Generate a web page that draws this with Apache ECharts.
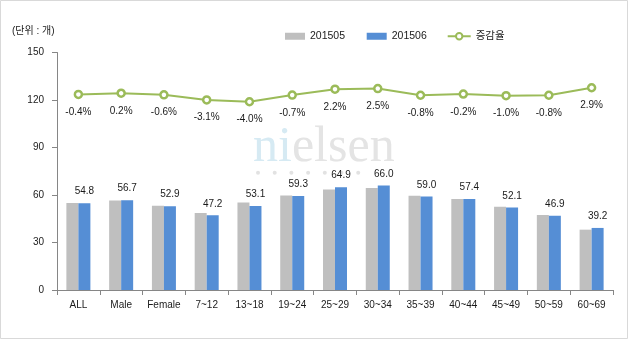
<!DOCTYPE html>
<html>
<head>
<meta charset="utf-8">
<script src="https://cdn.jsdelivr.net/npm/echarts@6/dist/echarts.min.js"></script>
<style>
  html, body { margin: 0; padding: 0; background: #fff; }
  #chart { width: 630px; height: 342px; }
</style>
</head>
<body>
<div id="chart"></div>
<script>
// Categories: total, gender, age bands
const categories = ['ALL', 'Male', 'Female', '7~12', '13~18', '19~24', '25~29', '30~34', '35~39', '40~44', '45~49', '50~59', '60~69'];
// Monthly counts (unit: 개)
const may2015 = [55.0, 56.6, 53.2, 48.7, 55.3, 59.7, 63.5, 64.4, 59.5, 57.5, 52.6, 47.3, 38.1];
const jun2015 = [54.8, 56.7, 52.9, 47.2, 53.1, 59.3, 64.9, 66.0, 59.0, 57.4, 52.1, 46.9, 39.2];
// Month-over-month change, %
const changeRate = [-0.4, 0.2, -0.6, -3.1, -4.0, -0.7, 2.2, 2.5, -0.8, -0.2, -1.0, -0.8, 2.9];
const yTicks = [0, 30, 60, 90, 120, 150];

const FONT = '"Liberation Sans", "Noto Sans CJK KR", sans-serif';
const SERIF = '"Liberation Serif", serif';
const TXT = '#1a1a1a';

const chart = echarts.init(document.getElementById('chart'), null, { renderer: 'canvas' });

chart.setOption({
  animation: false,
  backgroundColor: '#ffffff',
  textStyle: { fontFamily: FONT },
  grid: { left: 57, right: 17, top: 52.5, bottom: 52, containLabel: false },
  graphic: [
    { type: 'rect', z: 0, shape: { x: 0.5, y: 0.5, width: 627, height: 338 },
      style: { fill: 'none', stroke: '#d9d9d9', lineWidth: 1 } },
    { type: 'text', z: 0, left: 12, top: 26,
      style: { text: '(단위 : 개)', font: '10px ' + FONT, fill: TXT } },
    // nielsen watermark
    { type: 'text', z: 0, x: 253, y: 148,
      style: { text: 'ni', font: '50px ' + SERIF, fill: '#d6eaf3', verticalAlign: 'middle' } },
    { type: 'text', z: 0, x: 291.9, y: 148,
      style: { text: 'elsen', font: '50px ' + SERIF, fill: '#e4e4e4', verticalAlign: 'middle' } },
    ...[0, 1, 2, 3, 4, 5, 6].map(i => ({
      type: 'circle', z: 0, shape: { cx: 258 + i * 16.7, cy: 172.7, r: 2 },
      style: { fill: '#e2e2e2' }
    }))
  ],
  legend: [
    { data: ['201505'], left: 280, top: 26, itemWidth: 20, itemHeight: 7, icon: 'rect',
      textStyle: { fontSize: 10.5, color: TXT, fontFamily: FONT } },
    { data: ['201506'], left: 361.7, top: 26, itemWidth: 20, itemHeight: 7, icon: 'rect',
      textStyle: { fontSize: 10.5, color: TXT, fontFamily: FONT } },
    { data: ['증감율'], left: 441.7, top: 26, itemWidth: 23, itemHeight: 8,
      textStyle: { fontSize: 10.5, color: TXT, fontFamily: FONT } }
  ],
  xAxis: {
    type: 'category',
    data: categories,
    boundaryGap: true,
    axisLine: { lineStyle: { color: '#868686', width: 1 } },
    axisTick: { show: true, length: 5, lineStyle: { color: '#868686' } },
    axisLabel: { color: TXT, fontSize: 10, margin: 10, interval: 0, fontFamily: FONT }
  },
  yAxis: [
    {
      type: 'value', min: yTicks[0], max: yTicks[yTicks.length - 1], interval: 30,
      axisLine: { show: true, lineStyle: { color: '#868686', width: 1 } },
      axisTick: { show: true, length: 5, lineStyle: { color: '#868686' } },
      axisLabel: { color: TXT, fontSize: 10, margin: 13, fontFamily: FONT },
      splitLine: { show: false }
    },
    {
      type: 'value', min: -96.7, max: 20.25, show: false,
      splitLine: { show: false }
    }
  ],
  series: [
    {
      name: '201505', type: 'bar', data: may2015, barWidth: 12, barGap: '0%',
      itemStyle: { color: '#bfbfbf' }, z: 2
    },
    {
      name: '201506', type: 'bar', data: jun2015, barWidth: 12,
      itemStyle: { color: '#558ed5' }, z: 2,
      label: { show: true, position: 'top', distance: 6.5, color: TXT, fontSize: 10, fontFamily: FONT,
        formatter: p => p.value.toFixed(1) }
    },
    {
      name: '증감율', type: 'line', yAxisIndex: 1, data: changeRate,
      symbol: 'circle', symbolSize: 7, showAllSymbol: true,
      lineStyle: { color: '#9bbb59', width: 2 },
      itemStyle: { color: '#ffffff', borderColor: '#9bbb59', borderWidth: 2.5 },
      z: 3,
      label: { show: true, position: 'bottom', distance: 8, color: TXT, fontSize: 10, fontFamily: FONT,
        formatter: p => p.value.toFixed(1) + '%' }
    }
  ]
});
</script>
</body>
</html>
